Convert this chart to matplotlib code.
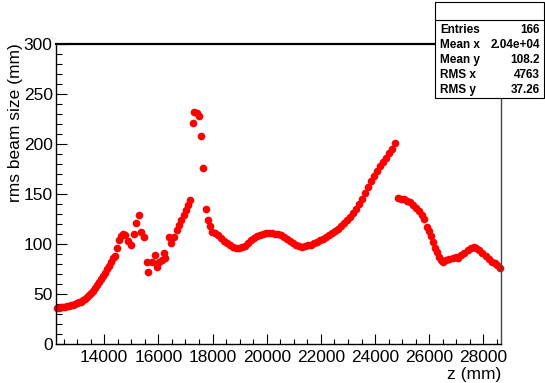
import matplotlib
matplotlib.use("Agg")
import matplotlib.pyplot as plt
from matplotlib.patches import Rectangle
from matplotlib.lines import Line2D
from matplotlib.ticker import MultipleLocator

plt.rcParams['font.family'] = ['Liberation Sans', 'DejaVu Sans']

# z positions (mm)
z = [12255, 12330, 12400, 12480, 12550, 12625, 12700, 12775, 12850, 12920,
     12995, 13070, 13140, 13215, 13290, 13365, 13440, 13510, 13585, 13660,
     13735, 13810, 13880, 13955, 14030, 14100, 14180, 14250, 14325, 14400,
     14475, 14550, 14620, 14695, 14770, 14880, 14990, 15100, 15175, 15290,
     15360, 15470, 15580, 15620, 15770, 15880, 15950, 16030, 16140, 16210,
     16250, 16400, 16470, 16580, 16690, 16770, 16840, 16950, 17025, 17100,
     17170, 17280, 17300, 17430, 17500, 17580, 17640, 17760, 17820, 17900,
     17985, 18095, 18210, 18320, 18430, 18540, 18650, 18760, 18870, 18985,
     19095, 19205, 19320, 19430, 19540, 19650, 19760, 19870, 19980, 20095,
     20205, 20315, 20425, 20540, 20650, 20760, 20870, 20980, 21090, 21200,
     21315, 21425, 21535, 21645, 21755, 21870, 21980, 22090, 22200, 22310,
     22420, 22530, 22645, 22755, 22865, 22975, 23090, 23200, 23310, 23420,
     23530, 23640, 23750, 23865, 23975, 24085, 24195, 24310, 24420, 24530,
     24640, 24750, 24860, 24970, 25080, 25195, 25305, 25415, 25525, 25635,
     25745, 25820, 25910, 25990, 26080, 26150, 26225, 26300, 26375, 26450,
     26525, 26635, 26745, 26860, 26970, 27080, 27190, 27300, 27415, 27525,
     27635, 27745, 27855, 27965, 28080, 28190, 28300, 28410, 28520, 28600]

# rms beam size (mm)
size = [36, 36, 36.5, 37, 37, 37.5, 38, 38.5, 39, 40,
        41, 42, 42, 44, 45, 47, 49, 51, 53, 56,
        59, 62, 65, 68, 71, 75, 78, 82, 86, 88,
        96, 104, 108, 110, 109, 103, 99, 110, 121, 129,
        112, 107, 82, 72, 82, 89, 77, 82, 84, 91,
        86, 107, 101, 107, 114, 119, 124, 129, 134, 139,
        144, 221, 232, 231, 228, 208, 176, 135, 124, 118,
        112, 111, 109, 106, 103, 101, 99, 97, 96, 96,
        97, 98, 101, 104, 106, 108, 109, 110, 111, 111,
        111, 110, 110, 109, 107, 105, 103, 101, 99, 98,
        97, 98, 99, 99, 101, 102, 104, 105, 107, 109,
        111, 113, 115, 118, 121, 124, 127, 131, 135, 140,
        145, 151, 157, 163, 168, 173, 178, 182, 186, 191,
        195, 201, 146, 145, 145, 143, 142, 139, 136, 133,
        129, 125, 117, 113, 108, 102, 96, 92, 87, 84,
        82, 84, 85, 86, 87, 86, 89, 91, 94, 96,
        97, 96, 94, 91, 88, 85, 82, 81, 79, 76]

stat_labels = ["Entries", "Mean x", "Mean y", "RMS x", "RMS y"]
stat_values = ["166", "2.04e+04", "108.2", "4763", "37.26"]

W, H = 545, 383
fig = plt.figure(figsize=(W / 100, H / 100), dpi=100)
ax = fig.add_axes([55.5 / W, 1 - 344 / H, (501 - 55.5) / W, (344 - 43.5) / H])

ax.plot(z, size, 'o', color='#ff0000', ms=5.5, mec='none', clip_on=False)

ax.set_xlim(12200, 28650)
ax.set_ylim(0, 300)
ax.xaxis.set_major_locator(MultipleLocator(2000))
ax.xaxis.set_minor_locator(MultipleLocator(500))
ax.yaxis.set_major_locator(MultipleLocator(50))
ax.yaxis.set_minor_locator(MultipleLocator(10))
ax.set_xticks([14000, 16000, 18000, 20000, 22000, 24000, 26000, 28000])
ax.tick_params(axis='x', which='major', direction='in', length=7, width=0.8, pad=4, labelsize=12.5)
ax.tick_params(axis='x', which='minor', direction='in', length=3.5, width=0.8)
ax.tick_params(axis='y', which='major', direction='in', length=8, width=0.8, pad=2, labelsize=12.5)
ax.tick_params(axis='y', which='minor', direction='in', length=4, width=0.8)
ax.tick_params(top=False, right=False, which='both')

for s in ['left', 'bottom']:
    ax.spines[s].set_linewidth(1.0)
    ax.spines[s].set_color('black')
ax.spines['top'].set_linewidth(1.6)
ax.spines['top'].set_color('black')
ax.spines['right'].set_linewidth(1.0)
ax.spines['right'].set_color('#444444')

fig.text(16 / W, 1 - 43 / H, "rms beam size (mm)", rotation=90, ha='center', va='top', fontsize=12.5)
fig.text(501 / W, 1 - 374 / H, "z (mm)", ha='right', va='center', fontsize=12.5)

# stats box
x0, x1 = 434.5 / W, 544 / W
yt, yb = 1 - 2 / H, 1 - 98 / H
fig.add_artist(Rectangle((x0, yb), x1 - x0, yt - yb, transform=fig.transFigure,
                         facecolor='white', edgecolor='black', lw=0.8, zorder=5))
fig.add_artist(Line2D([x0, x1], [1 - 20 / H, 1 - 20 / H], transform=fig.transFigure,
                      color='black', lw=0.8, zorder=6))
rows_y = [30, 45, 60, 75.5, 90]
for lab, val, ry in zip(stat_labels, stat_values, rows_y):
    fig.text(440 / W, 1 - ry / H, lab, ha='left', va='center', fontsize=8.5,
             fontweight='bold', zorder=7)
    fig.text(540 / W, 1 - ry / H, val, ha='right', va='center', fontsize=8.5,
             fontweight='bold', zorder=7)

fig.savefig("out.png", dpi=100)
